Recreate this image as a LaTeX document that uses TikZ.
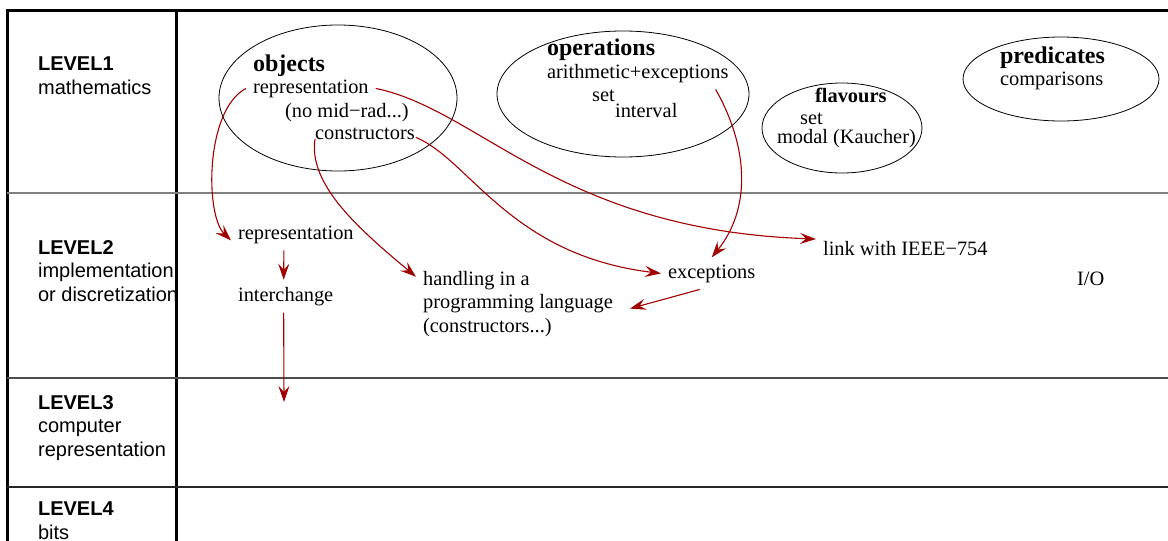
\documentclass[tikz,border=0pt]{standalone}
\usepackage{fontspec}
\setmainfont{Liberation Serif}
\setsansfont{Liberation Sans}
\usetikzlibrary{arrows.meta}
\definecolor{darkred}{RGB}{160,0,0}

\begin{document}
\begin{tikzpicture}[x=0.5pt,y=-0.5pt,
    txt/.style={anchor=base west,inner sep=3.35pt,align=left,font=\fontsize{10.2}{11.75}\selectfont},
    bigtxt/.style={txt,font=\fontsize{12}{14}\selectfont\bfseries},
    lvl/.style={txt,font=\fontsize{10}{11.75}\selectfont\sffamily},
    arr/.style={darkred,line width=0.55pt,-{Stealth[length=8pt,width=5.5pt,inset=3pt]}}]
                \useasboundingbox (0,0) rectangle (1168,541);
                % frame and levels
                \draw [line width=1.5pt] (1168,10) -- (7,10) -- (7,541);
                \draw [line width=1.5pt] (176,10) -- (176,541);
                \draw [gray, line width=0.7pt] (7,193) -- (1168,193);
                \draw [black!70, line width=0.7pt] (7,378) -- (1168,378);
                \draw [black!85, line width=0.6pt] (7,487) -- (1168,487);
                % multi-line nodes sit on their last baseline
                \node [lvl] (lvl1) at (31,94) {\textbf{LEVEL1}\\mathematics};
                \node [lvl] (lvl2) at (31,301) {\textbf{LEVEL2}\\implementation\\or discretization};
                \node [lvl] (lvl3) at (31,456) {\textbf{LEVEL3}\\computer\\representation};
                \node [lvl] (lvl4) at (31,539) {\textbf{LEVEL4}\\bits};
                % level 1
                \draw (338,98) ellipse (119 and 73);
                \draw (623,94) ellipse (126 and 63);
                \draw (842,128) ellipse (80 and 45);
                \draw (1061,79) ellipse (98 and 42);
                \node [bigtxt] (obj) at (246,71) {objects};
                \node [txt] (objrep) at (246,93) {representation};
                \node [txt] (nomid) at (278,117) {(no mid−rad...)};
                \node [txt] (constr) at (308,139) {constructors};
                \node [bigtxt] (ops) at (540,55) {operations};
                \node [txt] (arith) at (540,78) {arithmetic+exceptions};
                \node [txt] (opset) at (585,101) {set};
                \node [txt] (opint) at (608,117) {interval};
                \node [txt, font=\fontsize{10.2}{11.75}\selectfont\bfseries] (flav) at (808,102) {flavours};
                \node [txt] (flset) at (793,124) {set};
                \node [txt] (modal) at (770,143) {modal (Kaucher)};
                \node [bigtxt] (pred) at (993,63) {predicates};
                \node [txt] (comp) at (993,85) {comparisons};
                % level 2
                \node [txt] (rep2) at (231,239) {representation};
                \node [txt] (inter) at (231,301) {interchange};
                \node [txt] (hand) at (416,332) {handling in a\\programming language\\(constructors...)};
                \node [txt] (exc) at (661,278) {exceptions};
                \node [txt] (ieee) at (816,255) {link with IEEE−754};
                \node [txt] (io) at (1070,285) {I/O};
                \coordinate (lvl3in) at (284,402);
                % arrows
                \draw [arr] (objrep.west) .. controls (205,110) and (205,215) .. ([yshift=-3pt]rep2.west);
                \draw [arr] ([xshift=3.5pt]constr.base west) .. controls (308,185) and (360,230) .. ([yshift=-6.5pt]hand.north west);
                \draw [arr] ([xshift=-3pt,yshift=-2pt]constr.east) .. controls (470,160) and (510,255) .. (exc.west);
                \draw [arr] (objrep.east) .. controls (480,110) and (560,230) .. ([yshift=4.5pt]ieee.west);
                \draw [arr] ([xshift=-10pt]arith.south east) .. controls (750,150) and (750,210) .. (exc.north);
                \draw [arr] ([xshift=-6pt]exc.south) -- ([xshift=5pt,yshift=-2.5pt]hand.east);
                \draw [arr] ([xshift=-6pt]rep2.south) -- ([xshift=-1pt]inter.north);
                \draw [arr] ([xshift=-1pt]inter.south) -- (lvl3in);
            \end{tikzpicture}
\end{document}
